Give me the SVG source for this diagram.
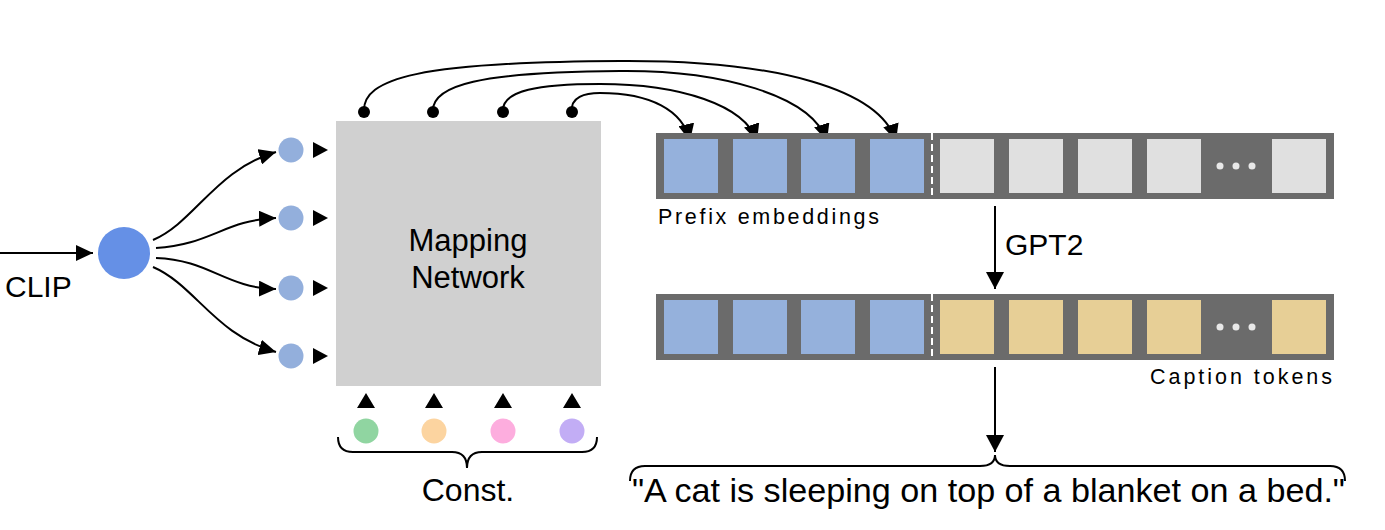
<svg xmlns="http://www.w3.org/2000/svg" width="1385" height="530" viewBox="0 0 1385 530">
<style>
.t{font-family:"Liberation Sans",Arial,sans-serif;fill:#000}
.ln{fill:none;stroke:#000;stroke-width:2}
.bar{fill:#6b6b6b}
.blue{fill:#95b1dc}
.gray{fill:#e0e0e0}
.tan{fill:#e7cf96}
.dash{stroke:#fff;stroke-width:2;stroke-dasharray:7 4}
.sm{fill:#93afdc}
.dot{fill:#e8e8e8}
</style>
<defs>
<marker id="ah" markerUnits="userSpaceOnUse" markerWidth="18" markerHeight="16" refX="17" refY="8" orient="auto"><path d="M0,0 L17,8 L0,16 z" fill="#000"/></marker>
<marker id="ah2" markerUnits="userSpaceOnUse" markerWidth="18" markerHeight="18" refX="17" refY="9" orient="auto"><path d="M0,0 L17,9 L0,18 z" fill="#000"/></marker>
</defs>
<rect width="1385" height="530" fill="#fff"/>

<g id="connectors">
<path class="ln" d="M0,253 L93,253" marker-end="url(#ah)"/>
<path class="ln" d="M153,240 C195,222 215,170 276,152" marker-end="url(#ah)"/>
<path class="ln" d="M156,248 C210,245 225,220 276,218" marker-end="url(#ah)"/>
<path class="ln" d="M156,258 C210,260 225,288 276,289" marker-end="url(#ah)"/>
<path class="ln" d="M153,267 C195,285 215,335 276,352" marker-end="url(#ah)"/>
<path class="ln" d="M364,112 C362,78 420,62 620,61 C780,60 880,90 896,141" marker-end="url(#ah)"/>
<path class="ln" d="M433,112 C431,85 480,72 620,71 C720,70 812,95 827,141" marker-end="url(#ah)"/>
<path class="ln" d="M503,112 C501,90 540,84 600,84 C680,84 745,105 757,141" marker-end="url(#ah)"/>
<path class="ln" d="M572,112 C570,97 585,93 600,93 C650,93 683,110 690,141" marker-end="url(#ah)"/>
<circle cx="364" cy="112" r="6"/>
<circle cx="433" cy="112" r="6"/>
<circle cx="503" cy="112" r="6"/>
<circle cx="572" cy="112" r="6"/>
<path class="ln" d="M995,206 L995,289" marker-end="url(#ah2)"/>
<path class="ln" d="M995,367 L995,452" marker-end="url(#ah2)"/>
</g>

<g id="clip">
<circle cx="124" cy="253" r="26" fill="#6590e6"/>
<text class="t" x="5" y="297" font-size="30">CLIP</text>
</g>

<g id="inputs">
<circle class="sm" cx="291" cy="150" r="12.5"/>
<circle class="sm" cx="291" cy="218" r="12.5"/>
<circle class="sm" cx="291" cy="288" r="12.5"/>
<circle class="sm" cx="291" cy="356" r="12.5"/>
<path d="M313,142 L328,150 L313,158 z M313,210 L328,218 L313,226 z M313,280 L328,288 L313,296 z M313,348 L328,356 L313,364 z" fill="#000"/>
</g>

<g id="mapping-network">
<rect x="336" y="121" width="265" height="265" fill="#d0d0d0"/>
<text class="t" x="468" y="251" font-size="31" text-anchor="middle">Mapping</text>
<text class="t" x="468" y="288" font-size="31" text-anchor="middle">Network</text>
</g>

<g id="const">
<path d="M357,408 L366,393 L375,408 z M425,408 L434,393 L443,408 z M494,408 L503,393 L512,408 z M563,408 L572,393 L581,408 z" fill="#000"/>
<circle cx="366" cy="431" r="12.5" fill="#90d5a1"/>
<circle cx="434" cy="431" r="12.5" fill="#fcd4a0"/>
<circle cx="503" cy="431" r="12.5" fill="#fdadde"/>
<circle cx="572" cy="431" r="12.5" fill="#c2adf5"/>
<path class="ln" d="M338,437 Q338,452 353,452 L452,452 Q467,452 467,468 Q467,452 482,452 L582,452 Q597,452 597,437"/>
<text class="t" x="468" y="501" font-size="32" text-anchor="middle">Const.</text>
</g>

<g id="prefix-sequence">
<rect class="bar" x="656" y="133" width="678" height="66"/>
<rect class="blue" x="664" y="139" width="54" height="54"/>
<rect class="blue" x="733" y="139" width="54" height="54"/>
<rect class="blue" x="801" y="139" width="54" height="54"/>
<rect class="blue" x="870" y="139" width="54" height="54"/>
<line class="dash" x1="932" y1="133" x2="932" y2="199"/>
<rect class="gray" x="940" y="139" width="54" height="54"/>
<rect class="gray" x="1009" y="139" width="54" height="54"/>
<rect class="gray" x="1078" y="139" width="54" height="54"/>
<rect class="gray" x="1147" y="139" width="54" height="54"/>
<circle class="dot" cx="1220" cy="166" r="3.5"/>
<circle class="dot" cx="1236" cy="166" r="3.5"/>
<circle class="dot" cx="1252" cy="166" r="3.5"/>
<rect class="gray" x="1272" y="139" width="54" height="54"/>
<text class="t" x="658" y="224" font-size="21.5" textLength="221" lengthAdjust="spacing">Prefix embeddings</text>
</g>

<g id="gpt2">
<text class="t" x="1005" y="255" font-size="30">GPT2</text>
</g>

<g id="caption-sequence">
<rect class="bar" x="656" y="294" width="678" height="66"/>
<rect class="blue" x="664" y="300" width="54" height="54"/>
<rect class="blue" x="733" y="300" width="54" height="54"/>
<rect class="blue" x="801" y="300" width="54" height="54"/>
<rect class="blue" x="870" y="300" width="54" height="54"/>
<line class="dash" x1="932" y1="294" x2="932" y2="360"/>
<rect class="tan" x="940" y="300" width="54" height="54"/>
<rect class="tan" x="1009" y="300" width="54" height="54"/>
<rect class="tan" x="1078" y="300" width="54" height="54"/>
<rect class="tan" x="1147" y="300" width="54" height="54"/>
<circle class="dot" cx="1220" cy="327" r="3.5"/>
<circle class="dot" cx="1236" cy="327" r="3.5"/>
<circle class="dot" cx="1252" cy="327" r="3.5"/>
<rect class="tan" x="1272" y="300" width="54" height="54"/>
<text class="t" x="1150" y="384" font-size="21.5" textLength="182" lengthAdjust="spacing">Caption tokens</text>
</g>

<g id="caption">
<path class="ln" d="M630,481 Q630,466 645,466 L980,466 Q995,466 995,455 Q995,466 1010,466 L1330,466 Q1345,466 1345,481"/>
<text class="t" x="632" y="502" font-size="34" textLength="713" lengthAdjust="spacingAndGlyphs">"A cat is sleeping on top of a blanket on a bed."</text>
</g>
</svg>
